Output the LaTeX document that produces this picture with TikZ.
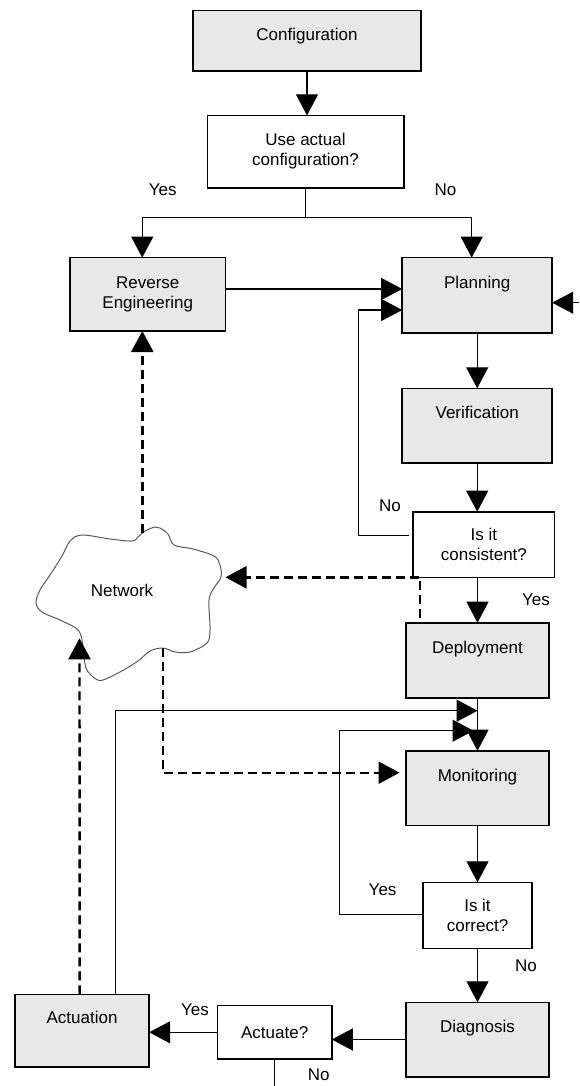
\documentclass[tikz,border=0pt]{standalone}
\usepackage{fontspec}
\setmainfont{Liberation Sans}
\usepackage{xcolor}
\usetikzlibrary{positioning, arrows.meta, calc}
\definecolor{boxgray}{RGB}{232,232,232}

\begin{document}
\begin{tikzpicture}[
    x=0.5pt, y=-0.5pt,
    font=\fontsize{8.5}{10}\selectfont,
    box/.style={
        rectangle,
        draw,
        line width=0.8pt,
        fill=boxgray,
        align=center,
        inner sep=0pt,
        outer sep=0pt
    },
    question/.style={
        rectangle,
        draw,
        line width=0.8pt,
        fill=white,
        align=center,
        inner sep=0pt,
        outer sep=0pt
    },
    oneline/.style={text height=7pt, text depth=7pt},
    toptext/.style={text height=7pt, text depth=14pt},
    answer/.style={inner sep=0pt},
    arrow/.style={
        line width=0.6pt,
        -{Triangle[length=10.5pt, width=11pt]}
    },
    dasharrow/.style={
        line width=1.2pt,
        dash pattern=on 4.5pt off 2.5pt,
        -{Triangle[length=10.5pt, width=11pt]}
    },
    cloudline/.style={line width=0.5pt, draw=black!65}
]

\useasboundingbox (0,0) rectangle (579,1086);

% Main flow

\node[box, oneline, minimum width=114pt, minimum height=30.2pt] (config) at (307,40.9) {Configuration};

\node[question, minimum width=98.2pt, minimum height=36.2pt, below=22.15pt of config, xshift=-0.75pt] (useact) {
Use actual\\configuration?
};

\node[box, toptext, minimum width=75pt, minimum height=37.7pt] (plan) at (477.2,295.3) {Planning};

\node[box, minimum width=77.7pt, minimum height=36.7pt, left=88.35pt of plan, yshift=0.5pt] (reveng) {
Reverse\\Engineering
};

\node[box, toptext, minimum width=75pt, minimum height=37.2pt, below=27.65pt of plan] (verif) {Verification};

\node[question, minimum width=70.75pt, minimum height=32.8pt, below=24.5pt of verif, xshift=3.35pt] (consist) {
Is it\\consistent?
};

\node[box, toptext, minimum width=71.3pt, minimum height=37.5pt, below=22.7pt of consist, xshift=-3.2pt] (deploy) {Deployment};

\node[box, toptext, minimum width=71.3pt, minimum height=37.3pt, below=26.5pt of deploy] (monit) {Monitoring};

\node[question, minimum width=54.5pt, minimum height=33pt, below=28.5pt of monit] (correct) {
Is it\\correct?
};

\node[box, toptext, minimum width=71.3pt, minimum height=37.2pt, below=27pt of correct] (diag) {Diagnosis};

\node[question, minimum width=57.1pt, minimum height=26.65pt, left=37.2pt of diag, yshift=3.6pt] (actq) {Actuate?};

\node[box, toptext, minimum width=67.1pt, minimum height=36.2pt, left=34.2pt of actq, yshift=0.9pt] (actu) {Actuation};

% Network cloud

\draw[cloudline] plot[smooth cycle, tension=0.55] coordinates {
    (155,527) (145,531) (138,537) (132,541) (110,539) (82,535)
    (70,541) (62,556) (50,575) (40,590) (36,603) (42,612)
    (60,620) (77,629) (82,640) (86,668) (96,679) (103,680)
    (120,672) (138,661) (150,651) (163,648) (175,652) (190,652)
    (207,643) (210,630) (209,600) (214,588) (221,577) (220,565)
    (214,556) (193,549) (174,545) (168,534) (160,528)
};

\node (net) at (122,590) {Network};

\coordinate (nettop) at (142.3,533);
\coordinate (netright) at (225.5,577.3);
\coordinate (netleftbot) at (79.5,638.3);
\coordinate (netbot) at (162.7,648.3);
\coordinate (fromright) at (579,302.7);
\coordinate (noend) at (274.7,1086);

% Answers

\node[answer] (yes1) at (162.7,189.3) {Yes};
\node[answer] (no1) at (445.5,189.3) {No};
\node[answer] (no2) at (390,505.7) {No};
\node[answer] (yes2) at (536,600) {Yes};
\node[answer] (yes3) at (382.6,890) {Yes};
\node[answer] (no3) at (526,966) {No};
\node[answer] (yes4) at (195,1009.3) {Yes};
\node[answer] (no4) at (318.7,1074.3) {No};

% Arrows

\draw[arrow] (config.south) -- (config.south |- useact.north);
\draw[arrow] (useact.south) -- ++(0,29.6) -| ($(reveng.north)+(-5.6,0)$);
\draw[arrow] (useact.south) -- ++(0,29.6) -| ($(plan.north)+(-5.5,0)$);
\draw[arrow] ($(reveng.east)+(0,-5.3)$) -- ($(plan.west)+(0,-6.3)$);
\draw[arrow] (fromright) -- (fromright -| plan.east);
\draw[arrow] (plan) -- (verif);
\draw[arrow] (verif.south) -- (verif.south |- consist.north);
\draw[arrow] ($(consist.west)+(-4.5,-9.2)$) -- ++(-49.9,0) |- ($(plan.west)+(0,14.7)$);
\draw[arrow] (deploy.north |- consist.south) -- (deploy.north);
\draw[arrow] (deploy) -- (monit);
\draw[arrow] ($(actu.north)+(33.4,0)$) |- ($(deploy.south)+(0,13)$);
\draw[arrow] ($(correct.west)+(0,-1)$) -- ++(-83.5,0) |- ($(deploy.south)+(-4,33)$);
\draw[arrow] (monit) -- (correct);
\draw[arrow] (correct) -- (diag);
\draw[arrow] (diag.west) -- (diag.west -| actq.east);
\draw[arrow] (actq.west) -- (actq.west -| actu.east);
\draw[line width=0.6pt] (actq.south) -- (actq.south |- noend);

% Network links

\draw[dasharrow] (nettop) -- (nettop |- reveng.south);
\draw[dasharrow] ($(deploy.north)+(-57.7,-4.4)$) |- (netright);
\draw[dasharrow] ($(actu.north)+(-2.4,0)$) -- (netleftbot);
\draw[dasharrow] (netbot) |- ($(monit.west)+(-6.7,-15.3)$);

\end{tikzpicture}
\end{document}
